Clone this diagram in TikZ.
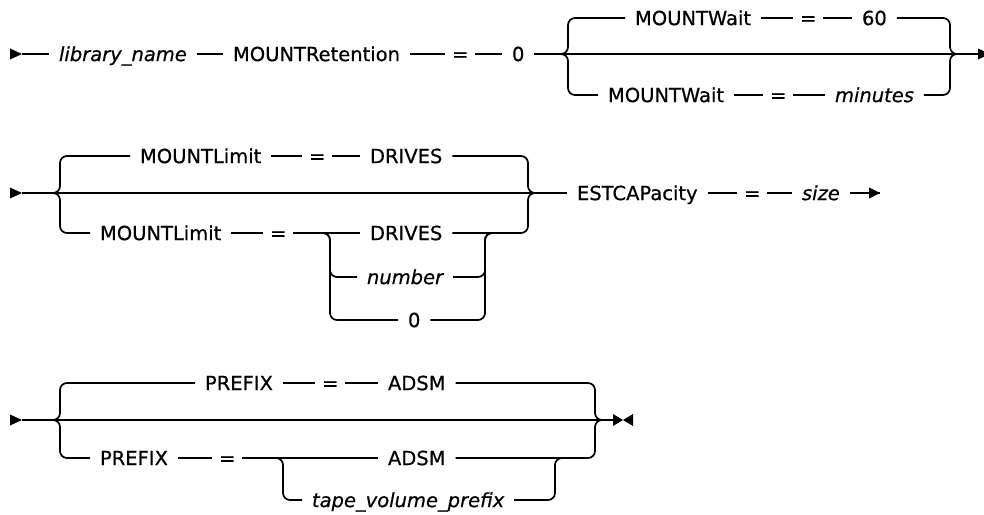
\documentclass[tikz,border=0pt]{standalone}
\usepackage{fontspec}
\setmainfont{DejaVu Sans}[FakeBold=0.6,ItalicFeatures={FakeBold=0.6}]
\begin{document}
\begin{tikzpicture}[x=1pt,y=-1pt,
  tok/.style={anchor=west, inner xsep=0pt, inner ysep=0pt, outer xsep=10pt, outer ysep=0pt,
              text height=14.2pt, text depth=0pt, font=\fontsize{19.5}{23}\selectfont},
  var/.style={tok, font=\fontsize{19.5}{23}\selectfont\itshape},
  eqn/.style={tok, outer xsep=7pt},
  ln/.style={line width=1.7pt},
  rc/.style={ln, rounded corners=7pt}]
\useasboundingbox (0,0) rectangle (984,514);
% ---------------- Row 1
\coordinate (s1) at (22,54);
\coordinate (j1) at (560,54);
\coordinate (j2) at (958,54);
\coordinate (e1) at (990,54);
\node[var] (lib) at (49,54) {library\_name};
\node[tok] (mr) at (223,54) {MOUNTRetention\hspace{6pt}};
\node[eqn] (eq1) at (445,54) {=};
\node[tok] (z1) at (502,54) {0\hspace{-5pt}};
\node[tok] (mw1) at (625,18) {MOUNTWait};
\node[eqn] (eq2) at (793,18) {=};
\node[tok] (n60) at (852,18) {60\hspace{-7pt}};
\node[tok] (mw2) at (598,95) {MOUNTWait\hspace{4pt}};
\node[eqn] (eq3) at (763,95) {=};
\node[var] (mins) at (825,95) {minutes};
\fill (s1) -- ++(-12,-5.5) -- ++(0,11) -- cycle;
\draw[ln] (s1) -- (lib.west) (lib.east) -- (mr.west) (mr.east) -- (eq1.west)
          (eq1.east) -- (z1.west) (z1.east) -- (j1) -- (j2) -- (e1);
\fill (e1) -- ++(-12,-5.5) -- ++(0,11) -- cycle;
\draw[rc] (j1) -- ++(8,0) |- (mw1.west);
\draw[ln] (mw1.east) -- (eq2.west) (eq2.east) -- (n60.west);
\draw[rc] (n60.east) -| ([xshift=-8pt]j2) -- (j2);
\draw[rc] (j1) -- ++(8,0) |- (mw2.west);
\draw[ln] (mw2.east) -- (eq3.west) (eq3.east) -- (mins.west);
\draw[rc] (mins.east) -| ([xshift=-8pt]j2) -- (j2);
% ---------------- Row 2
\coordinate (s2) at (22,193);
\coordinate (j3) at (53,193);
\coordinate (j4) at (537,193);
\coordinate (j5) at (322,233);
\coordinate (j6) at (493,233);
\coordinate (e2) at (880,193);
\node[tok] (ml1) at (130,156) {MOUNTLimit\hspace{3pt}};
\node[eqn] (eq4) at (302,156) {=};
\node[tok] (dr1) at (360,156) {DRIVES};
\node[tok] (ml2) at (90,233) {MOUNTLimit\hspace{4pt}};
\node[eqn] (eq5) at (263,233) {=};
\node[tok] (dr2) at (360,233) {DRIVES};
\node[var] (num) at (357,277) {number};
\node[tok] (z2) at (398,320) {0};
\node[tok] (est) at (567,193) {ESTCAPacity};
\node[eqn] (eq6) at (737,193) {=};
\node[var] (size) at (792,193) {size};
\fill (s2) -- ++(-12,-5.5) -- ++(0,11) -- cycle;
\draw[ln] (s2) -- (j3) -- (j4) -- (est.west) (est.east) -- (eq6.west)
          (eq6.east) -- (size.west) (size.east) -- (e2);
\fill (e2) -- ++(-11,-5.5) -- ++(0,11) -- cycle;
\draw[rc] (j3) -- ++(7,0) |- (ml1.west);
\draw[ln] (ml1.east) -- (eq4.west) (eq4.east) -- (dr1.west);
\draw[rc] (dr1.east) -| ([xshift=-9pt]j4) -- (j4);
\draw[rc] (j3) -- ++(7,0) |- (ml2.west);
\draw[ln] (ml2.east) -- (eq5.west) (eq5.east) -- (dr2.west);
\draw[rc] (dr2.east) -- (j6) -| ([xshift=-9pt]j4) -- (j4);
\draw[rc] (j5) -- ++(8,0) |- (num.west);
\draw[rc] (j5) -- ++(8,0) |- (z2.west);
\draw[rc] (num.east) -| ([xshift=-8pt]j6) -- (j6);
\draw[rc] (z2.east) -| ([xshift=-8pt]j6) -- (j6);
% ---------------- Row 3
\coordinate (s3) at (22,420);
\coordinate (j7) at (53,420);
\coordinate (j8) at (603,420);
\coordinate (j9) at (275,458);
\coordinate (j10) at (563,458);
\coordinate (e3) at (623,420);
\node[tok] (pf1) at (195,383) {PREFIX\hspace{8pt}};
\node[eqn] (eq7) at (315,383) {=};
\node[tok] (ad1) at (378,383) {ADSM\hspace{4pt}};
\node[tok] (pf2) at (90,458) {PREFIX\hspace{8pt}};
\node[eqn] (eq8) at (212,458) {=};
\node[tok] (ad2) at (378,458) {ADSM\hspace{4pt}};
\node[var] (tvp) at (302,500) {tape\_volume\_prefix};
\fill (s3) -- ++(-12,-5.5) -- ++(0,11) -- cycle;
\draw[ln] (s3) -- (j7) -- (j8) -- ([xshift=-10pt]e3);
\fill (e3) -- ++(-10,-6) -- ++(0,12) -- cycle;
\fill (e3) -- ++(10,-6) -- ++(0,12) -- cycle;
\draw[rc] (j7) -- ++(7,0) |- (pf1.west);
\draw[ln] (pf1.east) -- (eq7.west) (eq7.east) -- (ad1.west);
\draw[rc] (ad1.east) -| ([xshift=-8pt]j8) -- (j8);
\draw[rc] (j7) -- ++(7,0) |- (pf2.west);
\draw[ln] (pf2.east) -- (eq8.west) (eq8.east) -- (ad2.west);
\draw[rc] (ad2.east) -- (j10) -| ([xshift=-8pt]j8) -- (j8);
\draw[rc] (j9) -- ++(8,0) |- (tvp.west);
\draw[rc] (tvp.east) -| ([xshift=-8pt]j10) -- (j10);
\end{tikzpicture}
\end{document}
